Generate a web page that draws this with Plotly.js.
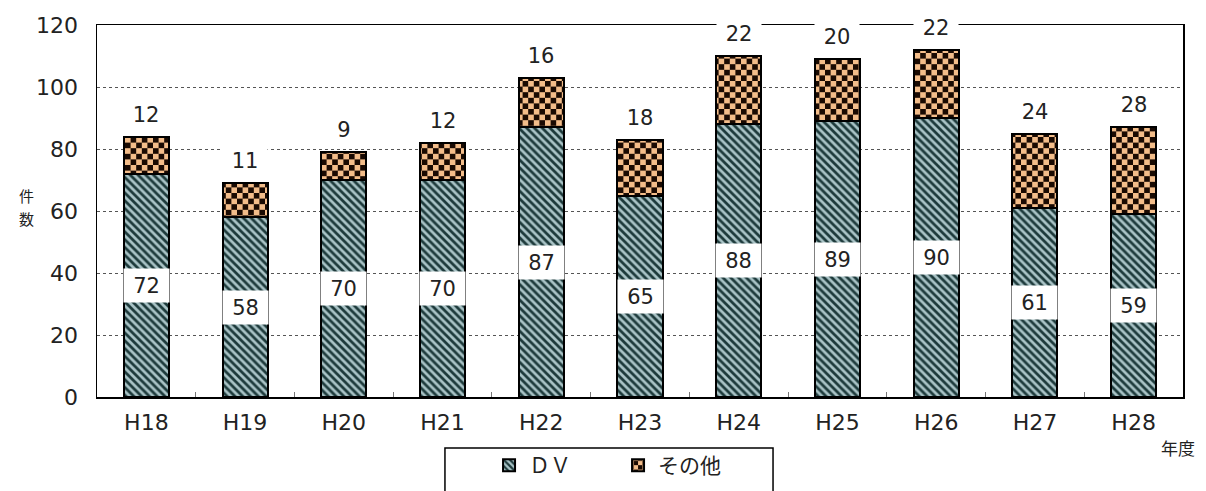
<!DOCTYPE html>
<html><head><meta charset="utf-8">
<script src="https://cdn.plot.ly/plotly-3.0.1.min.js"></script>
<style>html,body{margin:0;padding:0;background:#fff;} #chart{width:1206px;height:491px;}</style>
</head><body><div id="chart"></div>
<script>
const categories = ['H18','H19','H20','H21','H22','H23','H24','H25','H26','H27','H28'];
const dvValues = [72,58,70,70,87,65,88,89,90,61,59];
const otherValues = [12,11,9,12,16,18,22,20,22,24,28];
const seriesNames = ['ＤＶ','その他'];
const yTicks = [0,20,40,60,80,100,120];

const FONT = 'DejaVu Sans, Noto Sans CJK JP, sans-serif';
const CJK = 'Noto Sans CJK JP, sans-serif';
const TXT = '#222';
const DV_DARK = '#1d3a3b', DV_LIGHT = '#a9c3c6';
const OT_DARK = '#1a0a02', OT_LIGHT = '#f3bd8a';

const traces = [
  {type:'bar', name:seriesNames[0], x:categories, y:dvValues, hoverinfo:'skip',
   marker:{color:DV_LIGHT, line:{color:'#000', width:2},
     pattern:{shape:'\\', fgcolor:DV_DARK, bgcolor:DV_LIGHT, size:5.5, solidity:0.5}}},
  {type:'bar', name:seriesNames[1], x:categories, y:otherValues, hoverinfo:'skip',
   marker:{color:OT_LIGHT, line:{color:'#000', width:2},
     pattern:{shape:'+', fgcolor:OT_DARK, bgcolor:OT_LIGHT, size:11, solidity:0.3}}}
];

const annotations = [];
categories.forEach((c, i) => {
  annotations.push({x:c, y:dvValues[i] / 2, xref:'x', yref:'y', text:String(dvValues[i]),
    showarrow:false, bgcolor:'#fff', width:41, height:29, borderpad:2,
    font:{family:FONT, size:21, color:TXT}});
  annotations.push({x:c, y:dvValues[i] + otherValues[i], xref:'x', yref:'y', text:String(otherValues[i]),
    showarrow:false, yanchor:'bottom', yshift:6, bgcolor:'#fff', width:40, height:26, borderpad:2,
    font:{family:FONT, size:21, color:TXT}});
});
annotations.push({xref:'paper', yref:'paper', x:-0.065, y:0.543, text:'件', showarrow:false,
  xanchor:'center', yanchor:'middle', font:{family:CJK, size:15, color:TXT}});
annotations.push({xref:'paper', yref:'paper', x:-0.065, y:0.481, text:'数', showarrow:false,
  xanchor:'center', yanchor:'middle', font:{family:CJK, size:15, color:TXT}});
annotations.push({xref:'paper', yref:'paper', x:1.013, y:-0.137, text:'年度', showarrow:false,
  xanchor:'right', yanchor:'middle', font:{family:CJK, size:17, color:TXT}});

const layout = {
  width:1206, height:491,
  margin:{l:97, r:23, t:25, b:94, pad:0, autoexpand:false},
  paper_bgcolor:'#fff', plot_bgcolor:'#fff',
  barmode:'stack', bargap:0.544,
  font:{family:FONT, color:TXT},
  showlegend:true,
  legend:{orientation:'h', xref:'container', yref:'container',
    x:(97 + 0.361 * 1086) / 1206, xanchor:'left', y:(491 - 445) / 491, yanchor:'top',
    font:{family:CJK, size:21, color:TXT}, bgcolor:'rgba(0,0,0,0)', borderwidth:0,
    entrywidth:84, traceorder:'normal'},
  xaxis:{type:'category', showline:true, linecolor:'#000', linewidth:1.5, mirror:true,
    ticks:'inside', tickson:'boundaries', ticklen:5, tickcolor:'#777',
    tickfont:{family:FONT, size:22, color:TXT}, showgrid:false, zeroline:false, ticklabelstandoff:5},
  yaxis:{range:[0,120], tickvals:yTicks, showline:true, linecolor:'#000', linewidth:1.5, mirror:true,
    showgrid:true, gridcolor:'#555', griddash:'dot', gridwidth:1, ticks:'', zeroline:false,
    tickfont:{family:FONT, size:22, color:TXT}, ticklabelstandoff:13},
  annotations:annotations,
  shapes:[{type:'rect', xref:'paper', yref:'paper', x0:0.3204, x1:0.6225, y0:-0.1371, y1:-0.40,
    line:{color:'#000', width:1.5}, fillcolor:'rgba(0,0,0,0)'}]
};

function checkerize() {
  const NS = 'http://www.w3.org/2000/svg';
  document.querySelectorAll('pattern').forEach(p => {
    if (p.getAttribute('data-chk') === '1' && !p.querySelector('path')) return;
    const path = p.querySelector('path');
    const html = p.outerHTML.toLowerCase();
    const isOther = (path && (path.getAttribute('d') || '').indexOf('H') !== -1) ||
                    html.indexOf('243, 189, 138') !== -1 || html.indexOf('243,189,138') !== -1;
    if (!isOther) return;
    const s = 5.6;
    p.setAttribute('width', 2 * s); p.setAttribute('height', 2 * s);
    p.setAttribute('patternUnits', 'userSpaceOnUse');
    while (p.firstChild) p.removeChild(p.firstChild);
    const mk = (x, y, w, h, fill) => {
      const r = document.createElementNS(NS, 'rect');
      r.setAttribute('x', x); r.setAttribute('y', y);
      r.setAttribute('width', w); r.setAttribute('height', h);
      r.setAttribute('fill', fill); r.setAttribute('style', 'fill:' + fill);
      p.appendChild(r);
    };
    mk(0, 0, 2 * s, 2 * s, OT_LIGHT); mk(0, 0, s, s, OT_DARK); mk(s, s, s, s, OT_DARK);
    p.setAttribute('data-chk', '1');
  });
}

const gdiv = document.getElementById('chart');
Plotly.newPlot(gdiv, traces, layout, {staticPlot:true, responsive:false}).then(() => {
  checkerize();
  gdiv.on && gdiv.on('plotly_afterplot', checkerize);
  setTimeout(checkerize, 30);
  setTimeout(checkerize, 200);
  setTimeout(checkerize, 600);
});
checkerize();
</script></body></html>
